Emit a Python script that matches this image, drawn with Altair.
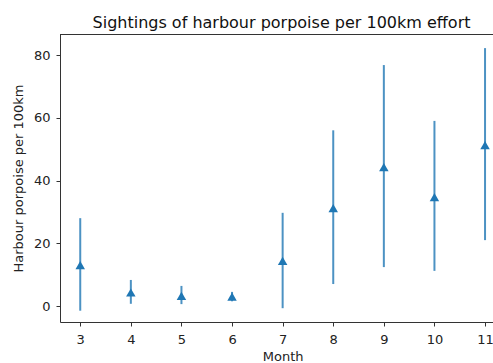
import altair as alt
import pandas as pd

# Monthly sighting rates (per 100 km of effort) with lower/upper error limits
months = [3, 4, 5, 6, 7, 8, 9, 10, 11]
rate = [13.0, 4.3, 3.2, 3.0, 14.4, 31.2, 44.3, 34.7, 51.3]
lower = [-1.5, 0.7, 0.6, 1.5, -0.7, 7.0, 12.4, 11.2, 21.0]
upper = [28.0, 8.3, 6.4, 4.5, 29.7, 56.0, 76.8, 59.0, 82.2]

df = pd.DataFrame({"month": months, "rate": rate, "lower": lower, "upper": upper})

W, H = 433, 288
BLUE = "#1f77b4"
FONT = "DejaVu Sans"

x_scale = alt.Scale(domain=[2.6, 2.6 + W / 50.6], nice=False, zero=False)
y_scale = alt.Scale(domain=[-5.1, 86.7], nice=False, zero=False)

x_axis = alt.Axis(
    values=months, title="Month", grid=False, tickSize=4, labelPadding=7,
    titleX=222.6, titleAlign="center", titlePadding=4,
)
y_axis = alt.Axis(
    values=[0, 20, 40, 60, 80], title="Harbour porpoise per 100km", grid=False,
    tickSize=4, labelPadding=6, titlePadding=8,
)

bars = alt.Chart(df).mark_rule(color=BLUE, strokeWidth=2, opacity=0.8).encode(
    x=alt.X("month:Q", scale=x_scale, axis=x_axis),
    y=alt.Y("lower:Q", scale=y_scale, axis=y_axis),
    y2="upper:Q",
)

points = alt.Chart(df).mark_point(
    shape="triangle-up", filled=True, color=BLUE, opacity=1, size=90
).encode(
    x=alt.X("month:Q", scale=x_scale),
    y=alt.Y("rate:Q", scale=y_scale),
)

# top spine of the axes frame
top = alt.Chart(df).mark_rule(color="#333", strokeWidth=1).encode(
    x=alt.value(0), x2=alt.value(W), y=alt.value(0.5)
)

chart = (
    alt.layer(bars, points, top)
    .properties(
        width=W,
        height=H,
        autosize=alt.AutoSizeParams(type="none"),
        padding={"left": 60, "top": 34, "right": 0, "bottom": 41},
        title=alt.TitleParams(
            "Sightings of harbour porpoise per 100km effort",
            fontSize=16, fontWeight="normal", font=FONT, color="#111",
            offset=3, dx=5, anchor="middle",
        ),
        background="white",
    )
    .configure_view(stroke=None)
    .configure_axis(
        labelFont=FONT, titleFont=FONT, labelFontSize=13, titleFontSize=13,
        titleFontWeight="normal", labelColor="#222", titleColor="#222",
        domainColor="#333", tickColor="#333", domainWidth=1, tickWidth=1,
    )
)

chart.save("out.html", embed_options={"renderer": "svg", "actions": False})
